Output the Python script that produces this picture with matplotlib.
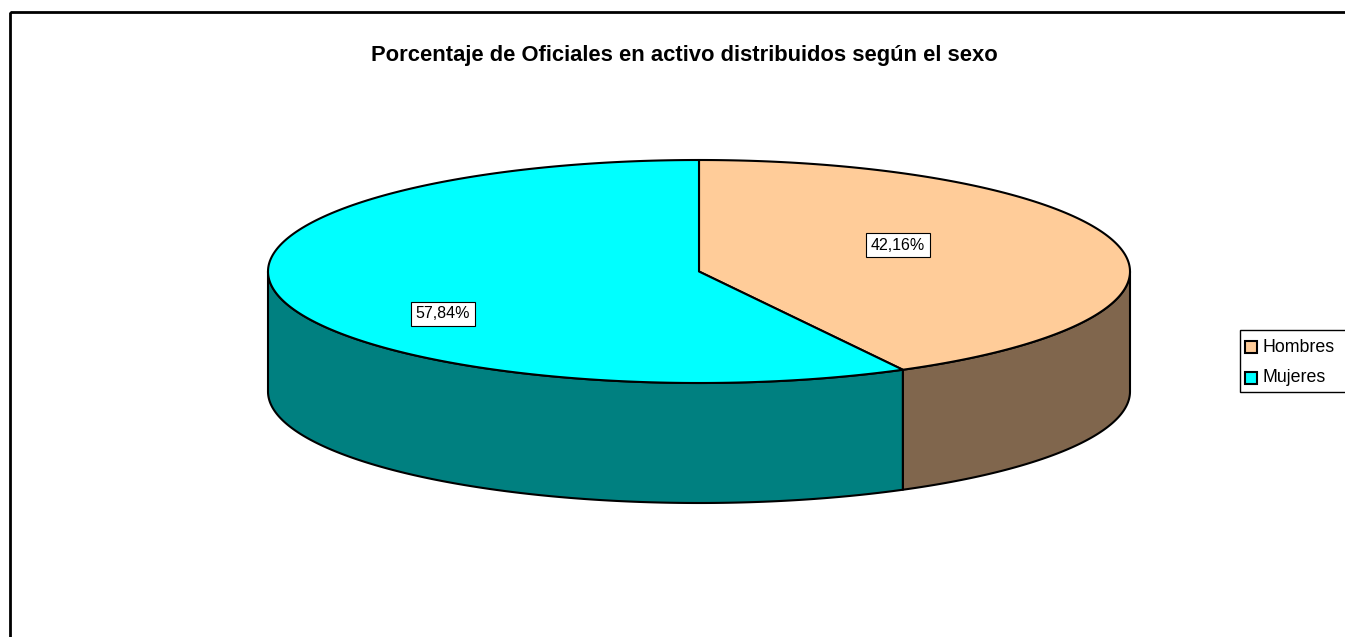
import numpy as np
import matplotlib.pyplot as plt
from matplotlib.patches import Polygon, Rectangle

plt.rcParams['font.family'] = ['Liberation Sans', 'DejaVu Sans']

title = 'Porcentaje de Oficiales en activo distribuidos según el sexo'
labels = ['Hombres', 'Mujeres']
values = [42.16, 57.84]
top_colors = ['#FFCC99', '#00FFFF']
side_colors = ['#80664D', '#008080']

# ellipse geometry of the 3d pie (pixel units)
cx, cy = 699, 271.5
rx, ry = 431, 111.5
depth = 120
label_pos = [(898, 245), (443, 314)]


def arc(t1, t2, dy=0, n=200):
    t = np.radians(np.linspace(t1, t2, n))
    return np.column_stack([cx + rx * np.cos(t), cy - ry * np.sin(t) + dy])


fig = plt.figure(figsize=(13.45, 6.37), dpi=100)
ax = fig.add_axes([0, 0, 1, 1])
ax.set_xlim(0, 1345)
ax.set_ylim(637, 0)
ax.axis('off')

# outer chart frame, cut by the image edge on the right and bottom
ax.add_patch(Rectangle((10, 12), 1400, 700, fill=False, lw=2, ec='black'))

# slice angles, clockwise from 12 o'clock
fracs = np.array(values) / sum(values)
starts = 90 - 360 * np.concatenate([[0], np.cumsum(fracs)[:-1]])
ends = starts - 360 * fracs

# side walls (only the front half, angles between -180 and 0)
for s, e, col in zip(starts, ends, side_colors):
    lo, hi = max(e, -180), min(s, 0)
    if hi <= lo:
        continue
    top = arc(hi, lo)
    bot = arc(lo, hi, dy=depth)
    ax.add_patch(Polygon(np.vstack([top, bot]), closed=True, fc=col,
                         ec='black', lw=1.5, joinstyle='round'))

# top faces
for s, e, col in zip(starts, ends, top_colors):
    pts = np.vstack([[cx, cy], arc(s, e)])
    ax.add_patch(Polygon(pts, closed=True, fc=col, ec='black', lw=1.5,
                         joinstyle='round'))

for (x, y), v in zip(label_pos, values):
    ax.text(x, y, f'{v:.2f}%'.replace('.', ','), ha='center', va='center',
            fontsize=11.5,
            bbox=dict(fc='white', ec='black', lw=0.8, boxstyle='square,pad=0.3'))

ax.text(684, 56, title, ha='center', va='center', fontsize=15.8,
        fontweight='bold')

# legend box, drawn by hand so it runs off the right edge
ax.add_patch(Rectangle((1240, 330), 130, 62, fc='white', ec='black', lw=1))
for i, (lab, col) in enumerate(zip(labels, top_colors)):
    y = 347 + 31 * i
    ax.add_patch(Rectangle((1245, y - 6), 12, 12, fc=col, ec='black', lw=1.5))
    ax.text(1262, y, lab, ha='left', va='center', fontsize=12.8)

fig.savefig('out.png', dpi=100)
